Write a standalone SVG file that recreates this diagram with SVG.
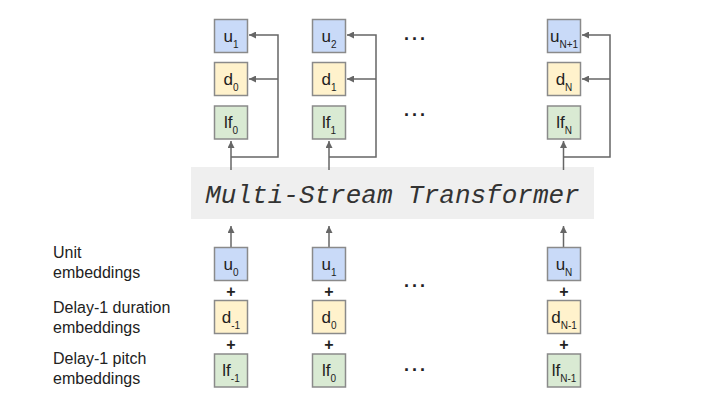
<svg xmlns="http://www.w3.org/2000/svg" width="713" height="403" viewBox="0 0 713 403">
<style>
.u{fill:#c9daf8;stroke:#8a8a8a;stroke-width:1.5}
.d{fill:#fff2cc;stroke:#8a8a8a;stroke-width:1.5}
.f{fill:#d9ead3;stroke:#8a8a8a;stroke-width:1.5}
.bt{font-family:"Liberation Sans",Arial,sans-serif;font-size:17px;fill:#222;text-anchor:middle}
.sb{font-size:10px}
.lbl{font-family:"Liberation Sans",Arial,sans-serif;font-size:16px;fill:#222}
.plus{font-family:"Liberation Sans",Arial,sans-serif;font-size:16px;font-weight:bold;fill:#222;text-anchor:middle}
.dots{font-family:"Liberation Sans",Arial,sans-serif;font-size:18px;font-weight:bold;fill:#222;letter-spacing:3px;text-anchor:middle}
.ln{fill:none;stroke:#666;stroke-width:1.5}
</style>
<defs>
<marker id="ah" viewBox="0 0 10 10" refX="10" refY="5" markerWidth="7" markerHeight="7" markerUnits="userSpaceOnUse" orient="auto">
<path d="M0,0 L10,5 L0,10 z" fill="#666"/>
</marker>
</defs>

<g id="transformer">
<rect x="191" y="167" width="403" height="52" fill="#efefef"/>
<text x="392.5" y="203" font-family="'Liberation Mono','Courier New',monospace" font-style="italic" font-size="26" fill="#333" text-anchor="middle">Multi-Stream Transformer</text>
</g>

<g id="connectors">
<path class="ln" d="M231,170 V141" marker-end="url(#ah)"/>
<path class="ln" d="M231,157 H278 V35 H249" marker-end="url(#ah)"/>
<path class="ln" d="M278,79 H249" marker-end="url(#ah)"/>
<path class="ln" d="M329,170 V141" marker-end="url(#ah)"/>
<path class="ln" d="M329,157 H376 V35 H347" marker-end="url(#ah)"/>
<path class="ln" d="M376,79 H347" marker-end="url(#ah)"/>
<path class="ln" d="M563.5,170 V141" marker-end="url(#ah)"/>
<path class="ln" d="M563.5,157 H610 V35 H582" marker-end="url(#ah)"/>
<path class="ln" d="M610,79 H582" marker-end="url(#ah)"/>
<path class="ln" d="M231,247 V226" marker-end="url(#ah)"/>
<path class="ln" d="M329,247 V226" marker-end="url(#ah)"/>
<path class="ln" d="M563.5,247 V226" marker-end="url(#ah)"/>
</g>

<g id="out-u1"><rect class="u" x="214.5" y="19.5" width="33" height="33"/><text class="bt" x="231" y="42">u<tspan class="sb" dy="6">1</tspan></text></g>
<g id="out-d0"><rect class="d" x="214.5" y="62.5" width="33" height="33"/><text class="bt" x="231" y="85">d<tspan class="sb" dy="6">0</tspan></text></g>
<g id="out-lf0"><rect class="f" x="214.5" y="106" width="33" height="33"/><text class="bt" x="231" y="128">lf<tspan class="sb" dy="6">0</tspan></text></g>

<g id="out-u2"><rect class="u" x="312.5" y="19.5" width="33" height="33"/><text class="bt" x="329" y="42">u<tspan class="sb" dy="6">2</tspan></text></g>
<g id="out-d1"><rect class="d" x="312.5" y="62.5" width="33" height="33"/><text class="bt" x="329" y="85">d<tspan class="sb" dy="6">1</tspan></text></g>
<g id="out-lf1"><rect class="f" x="312.5" y="106" width="33" height="33"/><text class="bt" x="329" y="128">lf<tspan class="sb" dy="6">1</tspan></text></g>

<g id="out-uN1"><rect class="u" x="547.5" y="19.5" width="33" height="33"/><text class="bt" x="564" y="42">u<tspan class="sb" dy="6">N+1</tspan></text></g>
<g id="out-dN"><rect class="d" x="547.5" y="62.5" width="33" height="33"/><text class="bt" x="564" y="85">d<tspan class="sb" dy="6">N</tspan></text></g>
<g id="out-lfN"><rect class="f" x="547.5" y="106" width="33" height="33"/><text class="bt" x="564" y="128">lf<tspan class="sb" dy="6">N</tspan></text></g>

<g id="dots-top">
<text class="dots" x="416" y="40">...</text>
<text class="dots" x="416" y="116">...</text>
</g>

<g id="in-u0"><rect class="u" x="214.5" y="247.5" width="33" height="33"/><text class="bt" x="231" y="270">u<tspan class="sb" dy="6">0</tspan></text></g>
<g id="in-dm1"><rect class="d" x="214.5" y="300.5" width="33" height="33"/><text class="bt" x="231" y="323">d<tspan class="sb" dy="6">-1</tspan></text></g>
<g id="in-lfm1"><rect class="f" x="214.5" y="354" width="33" height="33"/><text class="bt" x="231" y="376">lf<tspan class="sb" dy="6">-1</tspan></text></g>

<g id="in-u1"><rect class="u" x="312.5" y="247.5" width="33" height="33"/><text class="bt" x="329" y="270">u<tspan class="sb" dy="6">1</tspan></text></g>
<g id="in-d0"><rect class="d" x="312.5" y="300.5" width="33" height="33"/><text class="bt" x="329" y="323">d<tspan class="sb" dy="6">0</tspan></text></g>
<g id="in-lf0"><rect class="f" x="312.5" y="354" width="33" height="33"/><text class="bt" x="329" y="376">lf<tspan class="sb" dy="6">0</tspan></text></g>

<g id="in-uN"><rect class="u" x="547.5" y="247.5" width="33" height="33"/><text class="bt" x="564" y="270">u<tspan class="sb" dy="6">N</tspan></text></g>
<g id="in-dN1"><rect class="d" x="547.5" y="300.5" width="33" height="33"/><text class="bt" x="564" y="323">d<tspan class="sb" dy="6">N-1</tspan></text></g>
<g id="in-lfN1"><rect class="f" x="547.5" y="354" width="33" height="33"/><text class="bt" x="564" y="376">lf<tspan class="sb" dy="6">N-1</tspan></text></g>

<g id="plus">
<text class="plus" x="231" y="296.5">+</text>
<text class="plus" x="231" y="349.5">+</text>
<text class="plus" x="329" y="296.5">+</text>
<text class="plus" x="329" y="349.5">+</text>
<text class="plus" x="564" y="296.5">+</text>
<text class="plus" x="564" y="349.5">+</text>
</g>

<g id="dots-bottom">
<text class="dots" x="416" y="287">...</text>
<text class="dots" x="416" y="371">...</text>
</g>

<g id="labels">
<text class="lbl" x="53" y="258">Unit</text>
<text class="lbl" x="53" y="278">embeddings</text>
<text class="lbl" x="53" y="313">Delay-1 duration</text>
<text class="lbl" x="53" y="333">embeddings</text>
<text class="lbl" x="53" y="364">Delay-1 pitch</text>
<text class="lbl" x="53" y="384">embeddings</text>
</g>
</svg>
